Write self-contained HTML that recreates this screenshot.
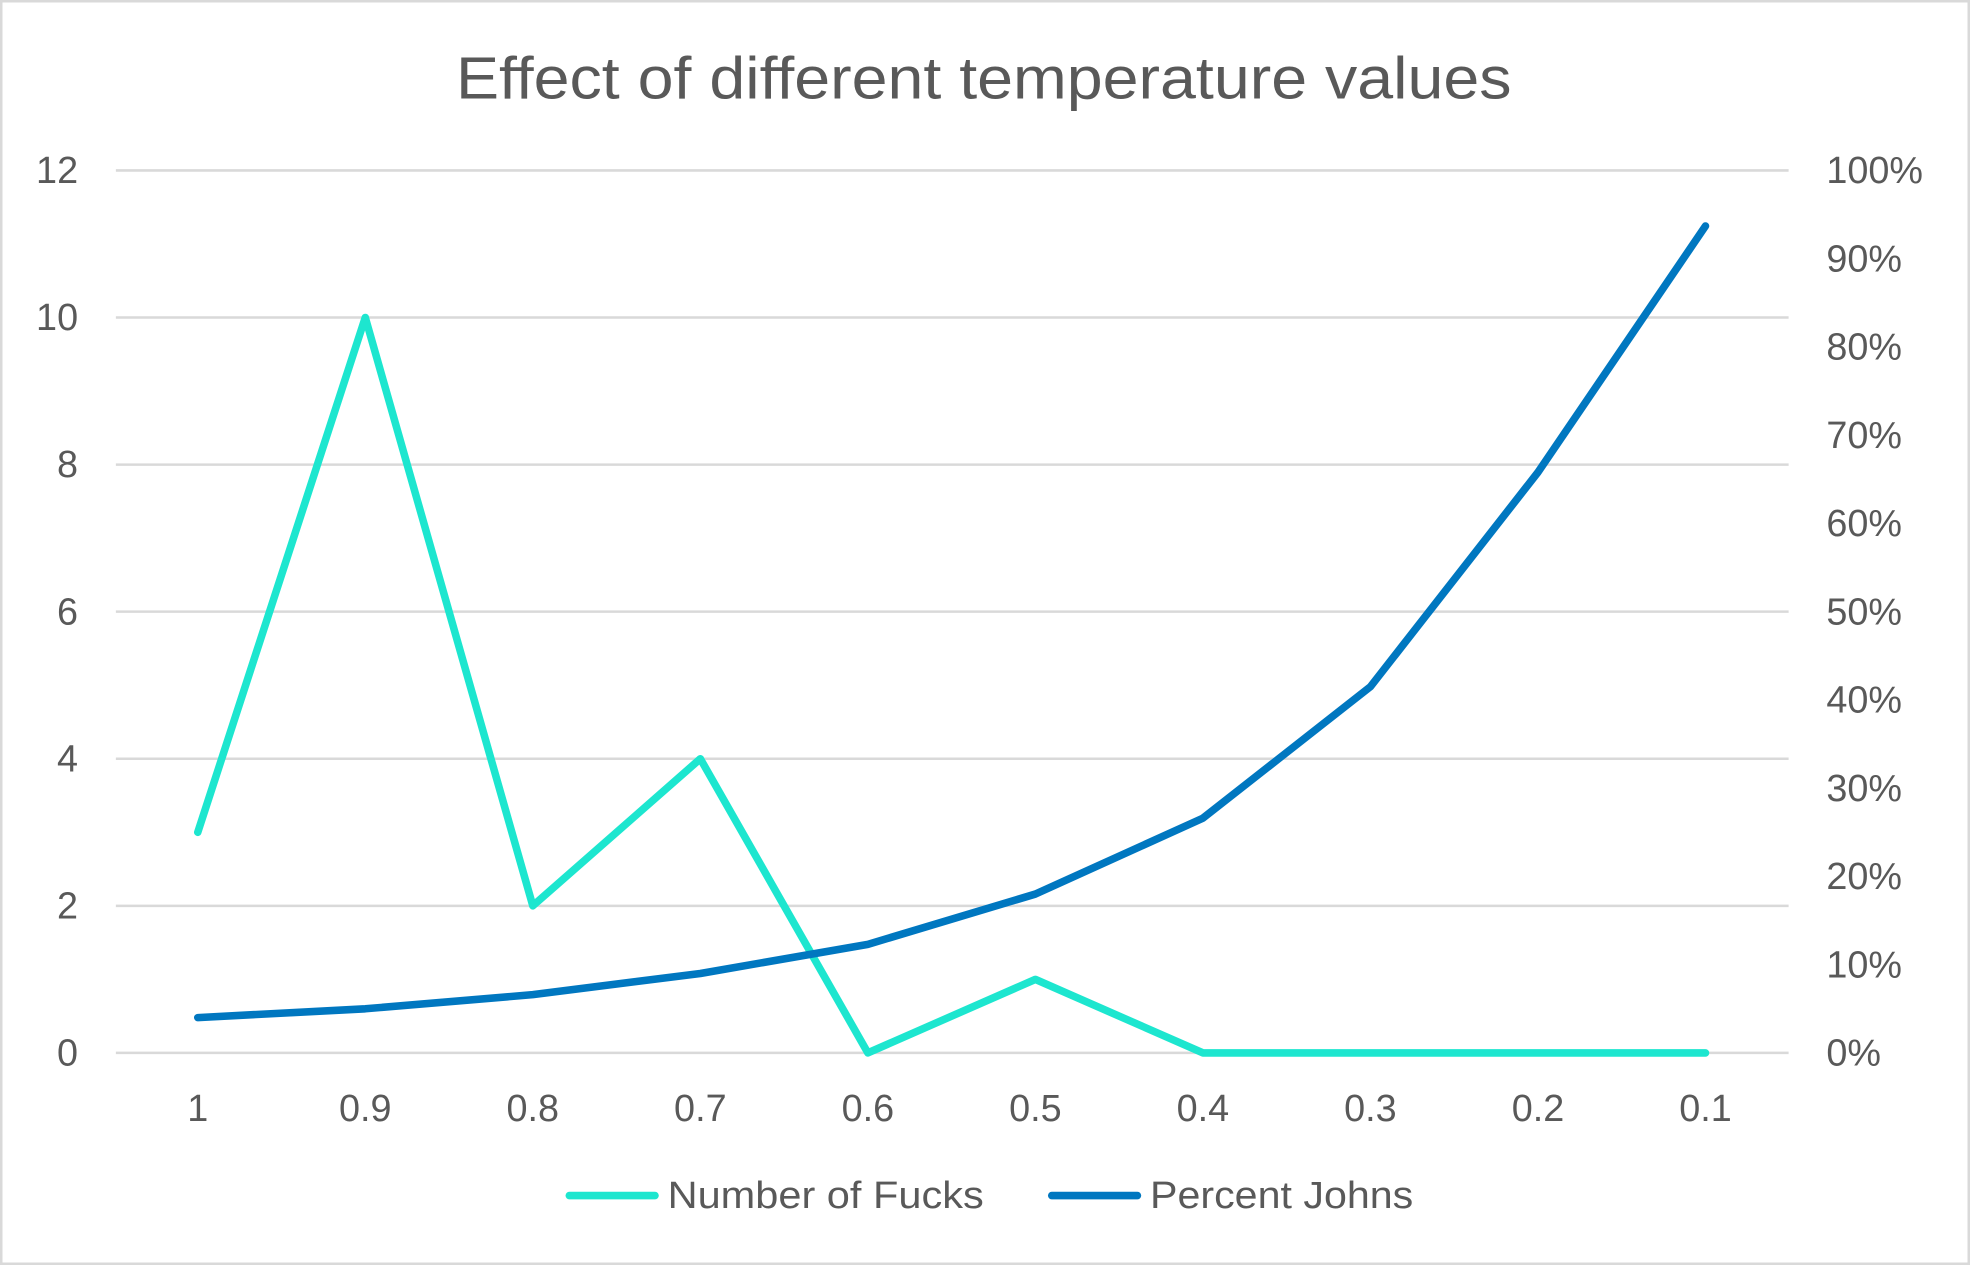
<!DOCTYPE html>
<html><head><meta charset="utf-8"><style>
html,body{margin:0;padding:0;background:#fff}
svg{display:block}
text{font-family:"Liberation Sans",sans-serif;fill:#595959}
</style></head><body>
<svg id="chart" width="1970" height="1265" viewBox="0 0 1564 1002" preserveAspectRatio="none">
<rect x="1" y="1" width="1562" height="1000" fill="#fff" stroke="#d9d9d9" stroke-width="2"/>
<text x="362" y="78" font-size="47" textLength="838" lengthAdjust="spacingAndGlyphs">Effect of different temperature values</text>
<g id="grid"></g><g id="lt"></g><g id="rt"></g><g id="xt"></g><g id="series"></g>
<g>
<line x1="452" y1="947" x2="520" y2="947" stroke="#1de6cf" stroke-width="6" stroke-linecap="round"/>
<text x="530" y="957" font-size="30" textLength="251" lengthAdjust="spacingAndGlyphs">Number of Fucks</text>
<line x1="835" y1="947" x2="903" y2="947" stroke="#0077c0" stroke-width="6" stroke-linecap="round"/>
<text x="913" y="957" font-size="30" textLength="209" lengthAdjust="spacingAndGlyphs">Percent Johns</text>
</g>
</svg>
<script>
const categories=["1","0.9","0.8","0.7","0.6","0.5","0.4","0.3","0.2","0.1"];
const fucks=[3,10,2,4,0,1,0,0,0,0];
const johns=[0.04,0.05,0.066,0.09,0.123,0.18,0.266,0.415,0.658,0.937];
const leftTicks=[0,2,4,6,8,10,12];
const rightTicks=[0,0.1,0.2,0.3,0.4,0.5,0.6,0.7,0.8,0.9,1];
const NS="http://www.w3.org/2000/svg";
const y0=834,y1=135,xA=157,xB=1354;
const xs=i=>xA+i*(xB-xA)/(categories.length-1);
const yl=v=>y0-v/12*(y0-y1);
const yr=v=>y0-v*(y0-y1);
function mk(t,a,p){const e=document.createElementNS(NS,t);for(const k in a)e.setAttribute(k,a[k]);p.appendChild(e);return e;}
const grid=document.getElementById('grid'),lt=document.getElementById('lt'),rt=document.getElementById('rt'),xt=document.getElementById('xt'),ser=document.getElementById('series');
leftTicks.forEach(v=>{
 const l=mk('line',{x1:92,x2:1420,y1:yl(v),y2:yl(v),stroke:'#d9d9d9','stroke-width':2},grid);
 
 
 const t=mk('text',{x:62,y:yl(v)+10,'font-size':30,'text-anchor':'end'},lt);t.textContent=v;
 
 
});
rightTicks.forEach(v=>{
 const t=mk('text',{x:1450,y:yr(v)+10,'font-size':30},rt);t.textContent=Math.round(v*100)+'%';
 
 
});
categories.forEach((c,i)=>{
 const t=mk('text',{x:xs(i),y:888,'font-size':30,'text-anchor':'middle'},xt);t.textContent=c;
 
 
});
const p1=mk('polyline',{points:fucks.map((v,i)=>xs(i)+','+yl(v)).join(' '),fill:'none',stroke:'#1de6cf','stroke-width':6,'stroke-linejoin':'round','stroke-linecap':'round'},ser);


const p2=mk('polyline',{points:johns.map((v,i)=>xs(i)+','+yr(v)).join(' '),fill:'none',stroke:'#0077c0','stroke-width':6,'stroke-linejoin':'round','stroke-linecap':'round'},ser);


</script>
</body></html>
